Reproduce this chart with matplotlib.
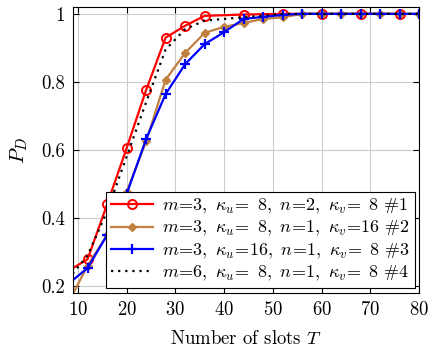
import matplotlib
matplotlib.use("Agg")
import matplotlib.pyplot as plt

plt.rcParams["font.family"] = "serif"
plt.rcParams["font.serif"] = ["cmr10"]
plt.rcParams["mathtext.fontset"] = "cm"
plt.rcParams["axes.formatter.use_mathtext"] = True

# data
x_red = [8, 12, 16, 20, 24, 28, 32, 36, 44, 52, 60, 68, 76]
y_red = [0.244, 0.279, 0.44, 0.605, 0.776, 0.93, 0.965, 0.994, 0.998, 1.0, 1.0, 1.0, 1.0]

x_brown = [8, 12, 16, 20, 24, 28, 32, 36, 40, 44, 48, 52, 56, 60, 64, 68, 72, 76, 80]
y_brown = [0.15, 0.26, 0.35, 0.476, 0.625, 0.806, 0.885, 0.944, 0.962, 0.973, 0.985, 0.99,
           1.0, 1.0, 1.0, 1.0, 1.0, 1.0, 1.0]

x_blue = [8, 12, 16, 20, 24, 28, 32, 36, 40, 44, 48, 52, 56, 60, 64, 68, 72, 76, 80]
y_blue = [0.206, 0.253, 0.35, 0.47, 0.632, 0.764, 0.852, 0.911, 0.946, 0.985, 0.991, 0.997,
          1.0, 1.0, 1.0, 1.0, 1.0, 1.0, 1.0]

x_black = [8, 12, 16, 20, 24, 28, 32, 36, 40, 44, 48, 52, 56, 60, 64, 68, 72, 76, 80]
y_black = [0.22, 0.29, 0.42, 0.58, 0.74, 0.895, 0.955, 0.98, 0.985, 0.99, 0.995, 1.0,
           1.0, 1.0, 1.0, 1.0, 1.0, 1.0, 1.0]

labels = [
    r"$m\!=\!3,\ \kappa_u\!=\!\enspace 8,\ n\!=\!2,\ \kappa_v\!=\!\enspace 8\ \#1$",
    r"$m\!=\!3,\ \kappa_u\!=\!\enspace 8,\ n\!=\!1,\ \kappa_v\!=\!16\ \#2$",
    r"$m\!=\!3,\ \kappa_u\!=\!16,\ n\!=\!1,\ \kappa_v\!=\!\enspace 8\ \#3$",
    r"$m\!=\!6,\ \kappa_u\!=\!\enspace 8,\ n\!=\!1,\ \kappa_v\!=\!\enspace 8\ \#4$",
]

fig = plt.figure(figsize=(4.37, 3.52), dpi=100)
ax = fig.add_axes([0.167, 0.168, 0.792, 0.812])

ax.plot(x_red, y_red, color="red", lw=1.6, marker="o", ms=6.5, mfc="none", mew=1.4,
        label=labels[0])
ax.plot(x_brown, y_brown, color=(0.75, 0.5, 0.25), lw=1.6, marker="D", ms=4.5,
        label=labels[1])
ax.plot(x_blue, y_blue, color="blue", lw=1.6, marker="+", ms=7, mew=1.6,
        label=labels[2])
ax.plot(x_black, y_black, color="black", lw=1.6, ls=(0, (1, 2.2)), label=labels[3])

ax.set_xlim(9, 80)
ax.set_ylim(0.18, 1.02)
ax.set_xticks([10, 20, 30, 40, 50, 60, 70, 80])
ax.set_yticks([0.2, 0.4, 0.6, 0.8, 1.0])
ax.set_yticklabels(["0.2", "0.4", "0.6", "0.8", "1"])
ax.grid(True, color="#cccccc", lw=0.8)
ax.set_axisbelow(True)
ax.tick_params(direction="in", top=True, right=True, labelsize=13.5, length=4, pad=6)

ax.set_xlabel(r"Number of slots $T$", fontsize=13.5, labelpad=8)
ax.set_ylabel(r"$P_D$", fontsize=15, labelpad=8)

leg = ax.legend(loc="lower right", fontsize=13, fancybox=False, edgecolor="black",
                framealpha=1, borderpad=0.3, handlelength=2.3, labelspacing=0.18,
                handletextpad=0.5, borderaxespad=0.25)
leg.get_frame().set_linewidth(0.8)

fig.savefig("out.png", dpi=100)
